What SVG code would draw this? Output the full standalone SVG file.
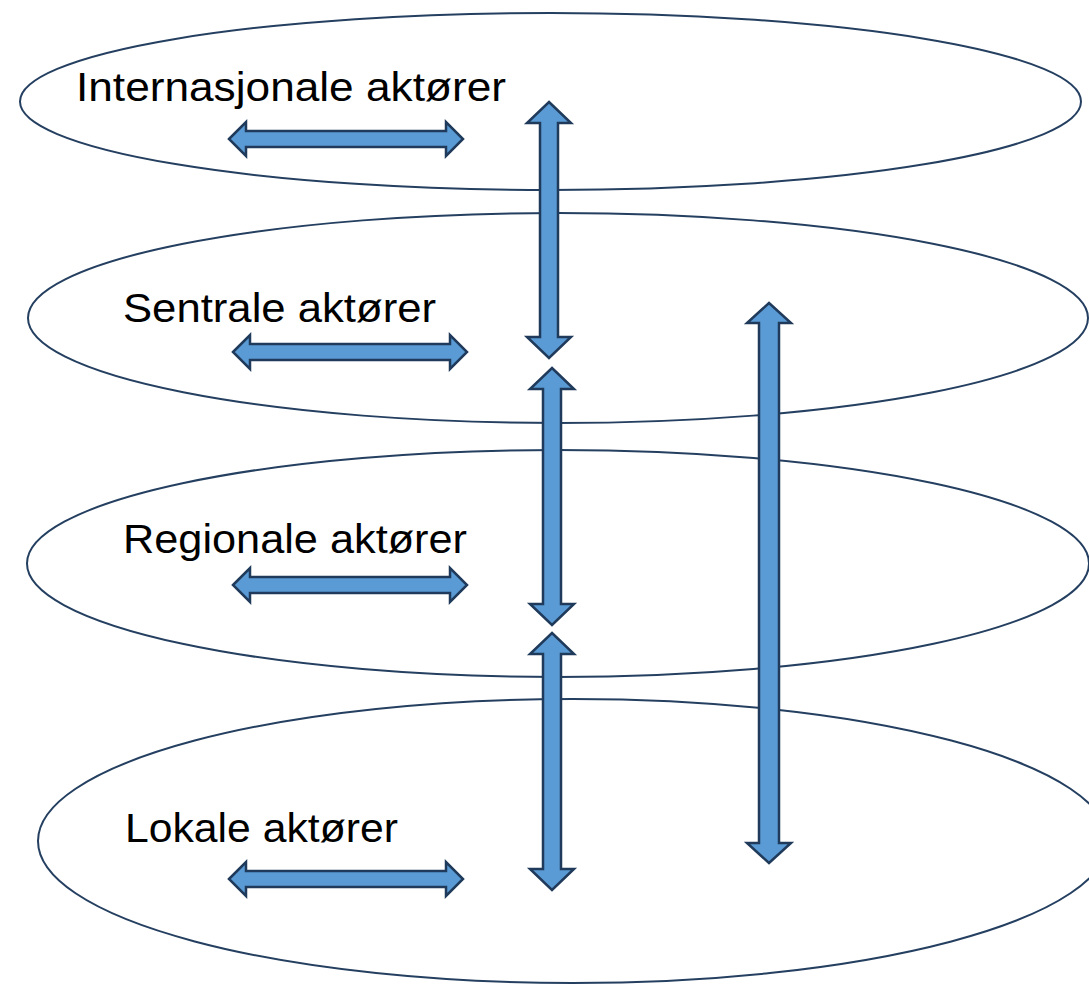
<svg xmlns="http://www.w3.org/2000/svg" width="1089" height="984" viewBox="0 0 1089 984">
<style>
.ell{fill:#ffffff;stroke:#243f60;stroke-width:2}
.arr{fill:#5b9bd5;stroke:#1f3a5a;stroke-width:2.5;stroke-linejoin:miter}
.lbl{font-family:"Liberation Sans",Arial,sans-serif;font-size:40px;fill:#000}
</style>
<rect width="1089" height="984" fill="#ffffff"/>
<g id="node-internasjonale">
<ellipse class="ell" cx="550.5" cy="101.5" rx="530.5" ry="88.5"/>
<text class="lbl" x="76" y="101" textLength="430" lengthAdjust="spacingAndGlyphs">Internasjonale aktører</text>
</g>
<g id="node-sentrale">
<ellipse class="ell" cx="558" cy="318" rx="530" ry="105"/>
<text class="lbl" x="123" y="322" textLength="313" lengthAdjust="spacingAndGlyphs">Sentrale aktører</text>
</g>
<g id="node-regionale">
<ellipse class="ell" cx="558" cy="563.5" rx="531" ry="113.5"/>
<text class="lbl" x="123" y="553" textLength="344" lengthAdjust="spacingAndGlyphs">Regionale aktører</text>
</g>
<g id="node-lokale">
<ellipse class="ell" cx="573" cy="841" rx="535" ry="142"/>
<text class="lbl" x="125" y="842" textLength="273" lengthAdjust="spacingAndGlyphs">Lokale aktører</text>
</g>
<g id="connectors">
<polygon class="arr" points="229,139 246,122 246,131 446,131 446,122 463,139 446,156 446,147 246,147 246,156"/>
<polygon class="arr" points="233,352 250,335 250,344 450,344 450,335 467,352 450,369 450,360 250,360 250,369"/>
<polygon class="arr" points="233,585 250,568 250,577 450,577 450,568 467,585 450,602 450,593 250,593 250,602"/>
<polygon class="arr" points="229,879 246,862 246,871 446,871 446,862 463,879 446,896 446,887 246,887 246,896"/>
<polygon class="arr" points="549,102 571,123 558,123 558,337 571,337 549,358 527,337 540,337 540,123 527,123"/>
<polygon class="arr" points="552,368 574,389 561,389 561,604 574,604 552,625 530,604 543,604 543,389 530,389"/>
<polygon class="arr" points="552,633 574,654 561,654 561,869 574,869 552,890 530,869 543,869 543,654 530,654"/>
<polygon class="arr" points="769,303 791,323 779,323 779,843 791,843 769,863 747,843 759,843 759,323 747,323"/>
</g>
</svg>
